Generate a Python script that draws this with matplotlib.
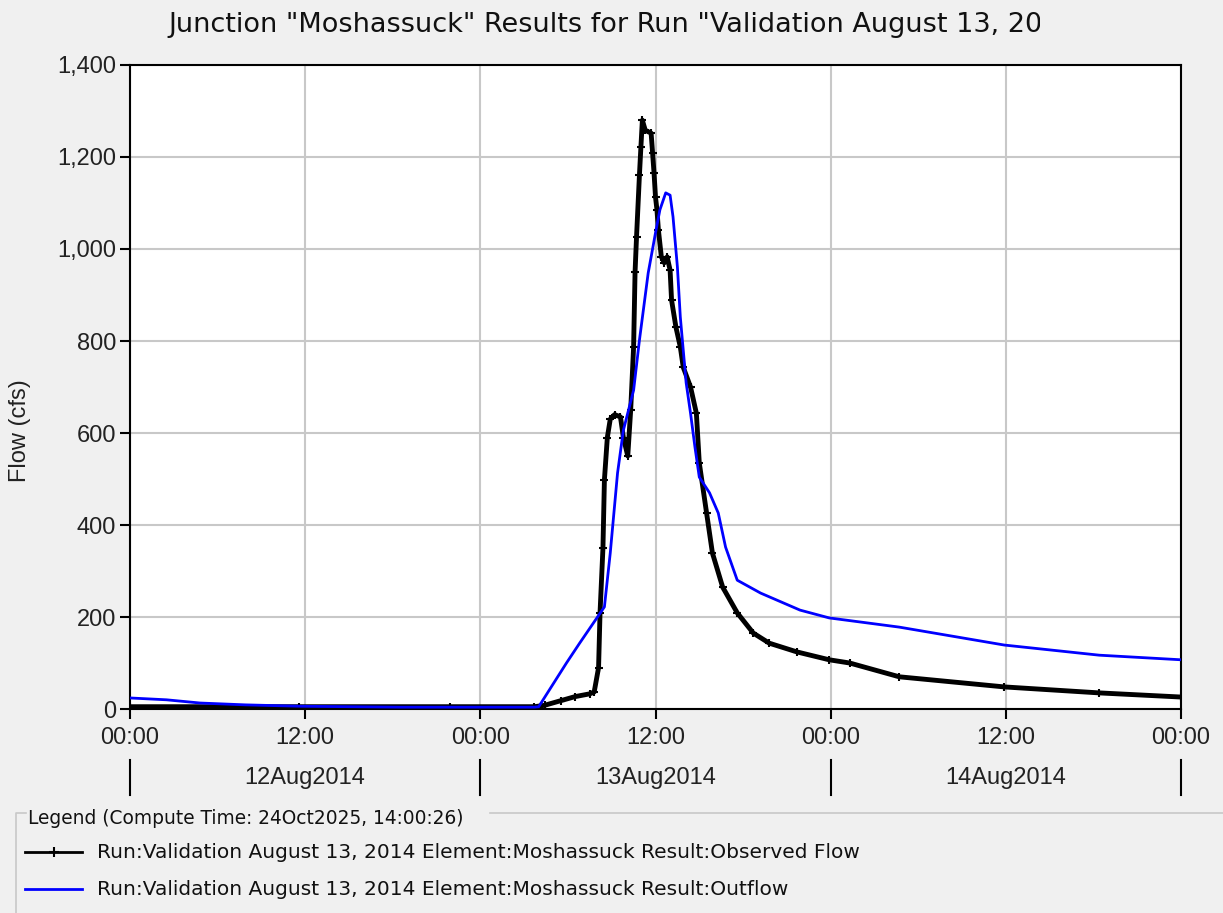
import matplotlib.pyplot as plt
from matplotlib.lines import Line2D
from matplotlib.patches import Rectangle
from matplotlib.transforms import blended_transform_factory

plt.rcParams['font.family'] = ['Liberation Sans', 'DejaVu Sans']

# hours after 00:00 12Aug2014
obs_hours = [0.0, 11.6, 21.9, 27.7, 28.4, 29.5, 30.5, 31.5, 31.8, 32.1, 32.2, 32.4, 32.5,
             32.7, 32.9, 33.2, 33.6, 33.8, 34.1, 34.3, 34.5, 34.6, 34.7, 34.9, 35.0, 35.1,
             35.3, 35.7, 35.8, 35.9, 36.0, 36.1, 36.2, 36.4, 36.6, 36.8, 37.0, 37.1, 37.4,
             37.7, 37.9, 38.4, 38.8, 39.0, 39.5, 39.9, 40.6, 41.6, 42.7, 43.8, 45.7, 47.9,
             49.3, 52.7, 59.9, 66.4, 72.0]
obs_flow = [5, 5, 5, 5, 8, 18, 27, 33, 37, 90, 209, 350, 498,
            590, 630, 640, 635, 590, 550, 650, 787, 950, 1026, 1161, 1222, 1280,
            1258, 1252, 1209, 1165, 1113, 1085, 1041, 983, 970, 983, 954, 889, 830,
            787, 743, 700, 643, 535, 426, 339, 265, 209, 165, 143, 124, 107,
            100, 70, 48, 35, 26]

out_hours = [0.0, 2.5, 4.8, 7.9, 11.6, 18.5, 27.7, 28.0, 29.9, 30.8, 32.5, 32.9, 33.4,
             33.8, 34.5, 34.9, 35.5, 36.0, 36.3, 36.7, 37.0, 37.2, 37.5, 37.7, 38.1,
             38.4, 38.7, 39.0, 39.7, 40.3, 40.8, 41.6, 43.2, 45.9, 47.9, 52.7, 59.9,
             66.4, 72.0]
out_flow = [24, 20, 13, 9, 6, 4, 4, 5, 100, 143, 222, 339, 513,
            606, 693, 802, 948, 1035, 1085, 1122, 1117, 1070, 961, 852, 709,
            643, 570, 504, 470, 426, 352, 280, 252, 215, 198, 178, 139,
            117, 107]

tick_hours = [0, 12, 24, 36, 48, 60, 72]
tick_labels = ['00:00', '12:00', '00:00', '12:00', '00:00', '12:00', '00:00']
day_labels = ['12Aug2014', '13Aug2014', '14Aug2014']
y_ticks = [0, 200, 400, 600, 800, 1000, 1200, 1400]

obs_label = 'Run:Validation August 13, 2014 Element:Moshassuck Result:Observed Flow'
out_label = 'Run:Validation August 13, 2014 Element:Moshassuck Result:Outflow'
bg = '#f0f0f0'

W, H = 1223, 913
def fx(px):
    return px / W
def fy(py):
    return 1 - py / H

fig = plt.figure(figsize=(12.23, 9.13), dpi=100, facecolor=bg)
ax = fig.add_axes([fx(130), fy(709), 1051 / W, 644 / H])
ax.set_facecolor('white')

ax.plot(obs_hours, obs_flow, color='black', lw=3.5, marker='+', ms=6, mew=1.5, zorder=3)
ax.plot(out_hours, out_flow, color='#0000ff', lw=2, zorder=4)

ax.set_xlim(0, 72)
ax.set_ylim(0, 1400)
ax.set_xticks(tick_hours)
ax.set_xticklabels(tick_labels)
ax.set_yticks(y_ticks)
ax.set_yticklabels([f'{v:,}' for v in y_ticks])
ax.grid(True, color='#c8c8c8', lw=1.5)
ax.set_axisbelow(True)
ax.tick_params(axis='both', labelsize=17, length=7, width=1.5, color='black', direction='out',
               labelcolor='#222222')
ax.tick_params(axis='x', pad=6)
ax.tick_params(axis='y', pad=3)
for sp in ax.spines.values():
    sp.set_linewidth(1.5)
fig.text(fx(20), fy(431), 'Flow (cfs)', rotation=90, ha='center', va='center', fontsize=17,
         color='#222222')

# cut the last tick label at the window edge
fig.add_artist(Rectangle((fx(1211), fy(760)), 1 - fx(1211), 35 / H, transform=fig.transFigure,
                         facecolor=bg, edgecolor='none', zorder=10))

# day labels with separators under the axis
trans = blended_transform_factory(ax.transData, fig.transFigure)
for i, d in enumerate(day_labels):
    ax.text(i * 24 + 12, fy(778), d, transform=trans, ha='center', va='center', fontsize=17,
            color='#222222')
for h in [0, 24, 48, 72]:
    ax.add_line(Line2D([h, h], [fy(760), fy(795)], transform=trans,
                       color='black', lw=1.5, clip_on=False))

# title, cut off at the window edge as in the original
fig.text(fx(168), fy(25), 'Junction "Moshassuck" Results for Run "Validation August 13, 2014"',
         ha='left', va='center', fontsize=19.5, family=['DejaVu Sans'], color='#111111')
fig.add_artist(Rectangle((fx(1040), fy(60)), 1 - fx(1040), 60 / H, transform=fig.transFigure,
                         facecolor=bg, edgecolor='none', zorder=10))

# legend group box
fig.add_artist(Line2D([fx(16), fx(16), fx(26)], [0, fy(813), fy(813)], transform=fig.transFigure,
                      color='#c8c8c8', lw=1.2))
fig.add_artist(Line2D([fx(490), 1], [fy(813), fy(813)], transform=fig.transFigure,
                      color='#c8c8c8', lw=1.2))
fig.text(fx(28), fy(818), 'Legend (Compute Time: 24Oct2025, 14:00:26)', ha='left', va='center',
         fontsize=13.4, family=['DejaVu Sans'], color='#111111')
fig.add_artist(Line2D([fx(25), fx(82)], [fy(852), fy(852)], transform=fig.transFigure,
                      color='black', lw=2))
fig.add_artist(Line2D([fx(54)], [fy(852)], transform=fig.transFigure, color='black',
                      marker='+', ms=7, mew=1.5, lw=0))
fig.text(fx(97), fy(852), obs_label, ha='left', va='center', fontsize=14.5,
         family=['DejaVu Sans'], color='#111111')
fig.add_artist(Line2D([fx(25), fx(82)], [fy(889), fy(889)], transform=fig.transFigure,
                      color='#0000ff', lw=2))
fig.text(fx(97), fy(889), out_label, ha='left', va='center', fontsize=14.5,
         family=['DejaVu Sans'], color='#111111')

fig.savefig('out.png', dpi=100, facecolor=fig.get_facecolor())
